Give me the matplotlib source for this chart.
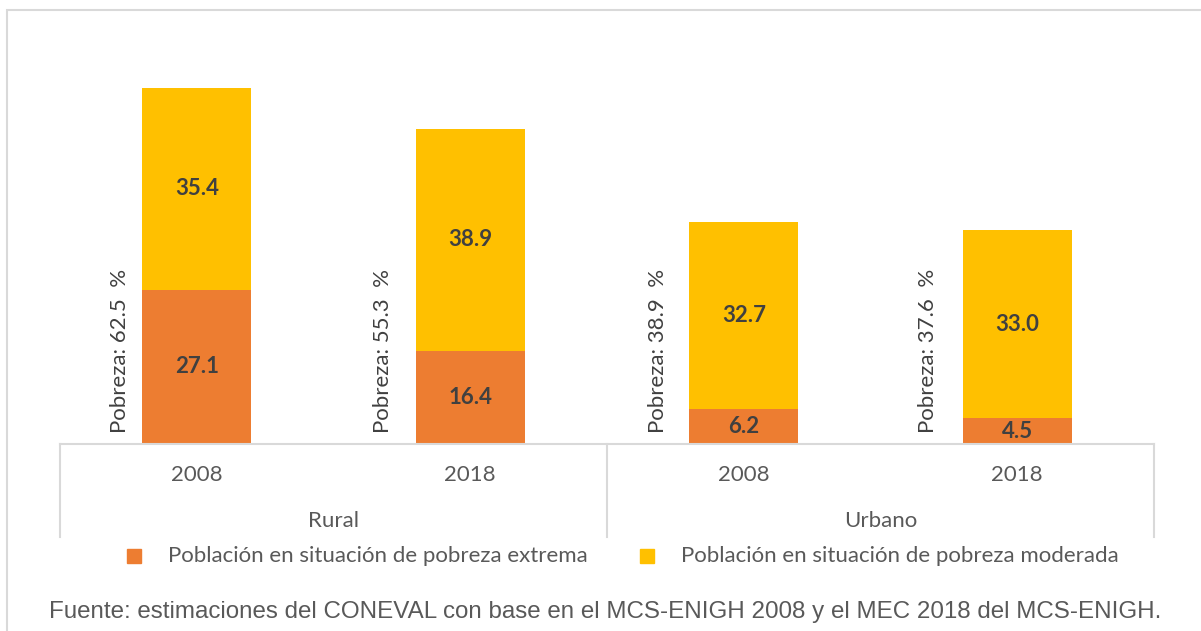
import matplotlib
matplotlib.use('Agg')
import matplotlib.pyplot as plt
import matplotlib.transforms as mtransforms
from matplotlib.patches import Rectangle

plt.rcParams['font.family'] = ['Lato', 'DejaVu Sans']

# data
groups = ['Rural', 'Urbano']
years = ['2008', '2018', '2008', '2018']
extrema = [27.1, 16.4, 6.2, 4.5]
moderada = [35.4, 38.9, 32.7, 33.0]
pobreza_labels = ['Pobreza: 62.5  %', 'Pobreza: 55.3  %', 'Pobreza: 38.9  %', 'Pobreza: 37.6  %']
legend_labels = ['Población en situación de pobreza extrema',
                 'Población en situación de pobreza moderada']
source = 'Fuente: estimaciones del CONEVAL con base en el MCS-ENIGH 2008 y el MEC 2018 del MCS-ENIGH.'

c_ext = '#ED7D31'
c_mod = '#FFC000'
grid_c = '#D9D9D9'
txt_c = '#595959'
lbl_c = '#404040'
fs = 16

W, H = 1201, 631
fig = plt.figure(figsize=(W / 100, H / 100), dpi=100)

# plot area in pixels
left, right, base, top = 60, 1154, 444, 45.3
ax = fig.add_axes([left / W, 1 - base / H, (right - left) / W, (base - top) / H])

x = list(range(len(years)))
ax.bar(x, extrema, width=0.4, color=c_ext, zorder=2)
ax.bar(x, moderada, width=0.4, bottom=extrema, color=c_mod, zorder=2)
ax.set_xlim(-0.5, len(years) - 0.5)
ax.set_ylim(0, 70)

for s in ['top', 'left', 'right']:
    ax.spines[s].set_visible(False)
ax.spines['bottom'].set_color(grid_c)
ax.spines['bottom'].set_linewidth(1.5)
ax.set_xticks([])
ax.set_yticks([])

# offset of the rotated "Pobreza" boxes left of each bar
pob_off = [0.28, 0.32, 0.315, 0.325]
for i in x:
    ax.text(i, extrema[i] / 2, f'{extrema[i]:.1f}', ha='center', va='center',
            fontsize=fs, fontweight='bold', color=lbl_c)
    ax.text(i, extrema[i] + moderada[i] / 2, f'{moderada[i]:.1f}', ha='center', va='center',
            fontsize=fs, fontweight='bold', color=lbl_c)
    ax.text(i - pob_off[i], 2.0, pobreza_labels[i], rotation=90, ha='center', va='bottom',
            fontsize=fs, color=lbl_c)

# multi-level category axis
trans = mtransforms.blended_transform_factory(ax.transData, ax.transAxes)
ah = base - top
yb = -(537 - base) / ah
for xv in [-0.5, 1.5, 3.5]:
    ax.plot([xv, xv], [0, yb], transform=trans, color=grid_c, lw=1.5, clip_on=False)
for i in x:
    ax.text(i, -(475 - base) / ah, years[i], transform=trans, ha='center', va='center',
            fontsize=fs, color=txt_c)
for g, name in enumerate(groups):
    ax.text(2 * g + 0.5, -(521 - base) / ah, name, transform=trans, ha='center', va='center',
            fontsize=fs, color=txt_c)

# legend (manual)
for px, col, lab in [(127, c_ext, legend_labels[0]), (640, c_mod, legend_labels[1])]:
    fig.add_artist(Rectangle((px / W, 1 - 563 / H), 14 / W, 14 / H,
                             transform=fig.transFigure, color=col))
    fig.text((px + 41) / W, 1 - 556 / H, lab, ha='left', va='center', fontsize=fs, color=txt_c)

# source note
fig.text(605 / W, 1 - 612 / H, source, ha='center', va='center', fontsize=17.4,
         color=txt_c, family=['Liberation Sans'])

# outer chart border (cut off on right and bottom)
fig.add_artist(Rectangle((7 / W, -0.05), 1.1, 1 - 10 / H + 0.05, transform=fig.transFigure,
                         fill=False, edgecolor=grid_c, lw=1.5))

fig.savefig('out.png', dpi=100)
